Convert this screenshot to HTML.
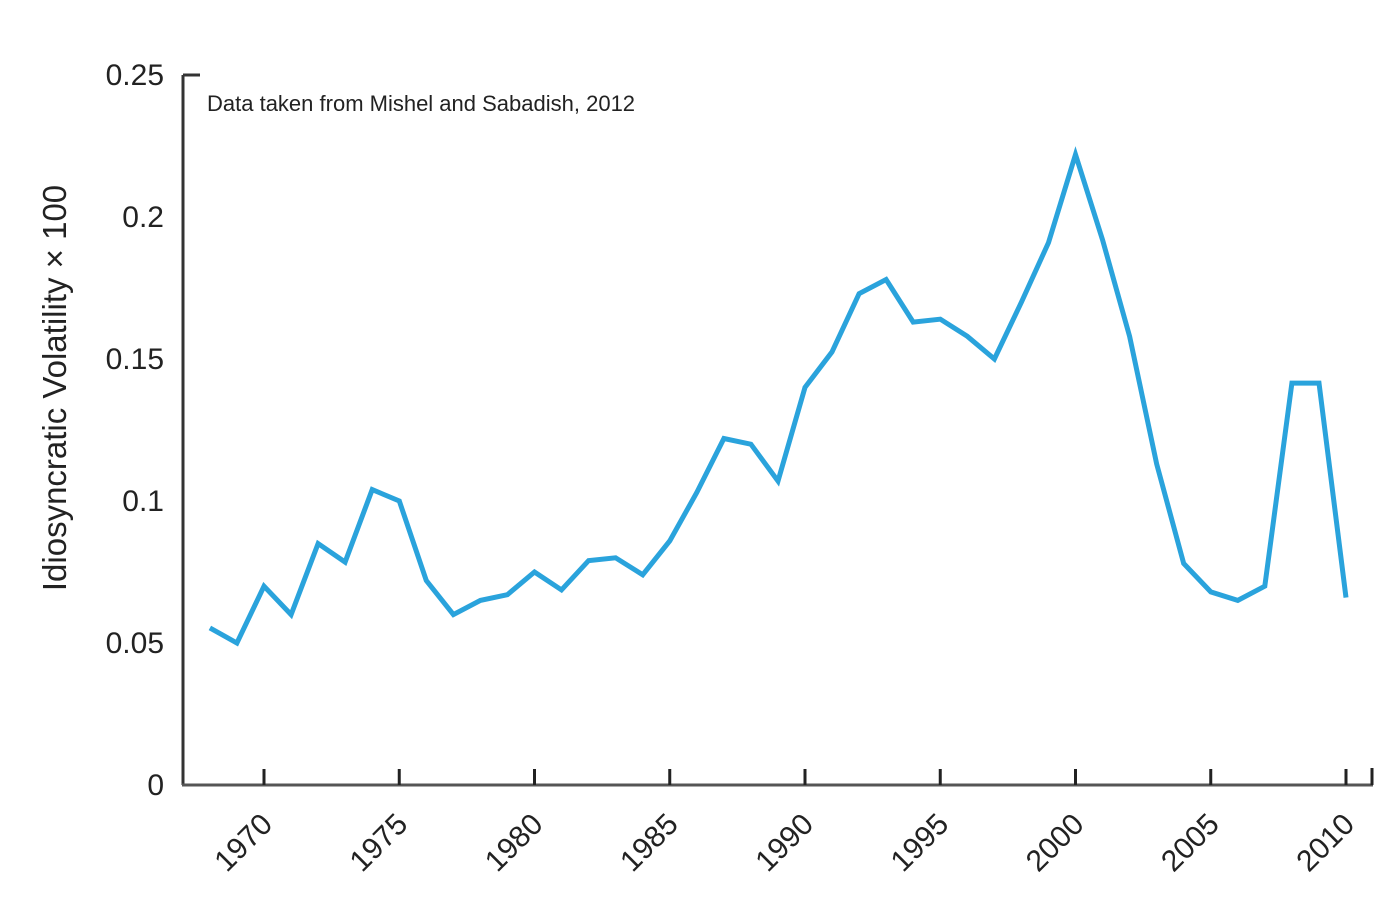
<!DOCTYPE html>
<html><head><meta charset="utf-8"><style>
html,body{margin:0;padding:0;background:#fff;}
svg{display:block;font-family:"Liberation Sans",sans-serif;}
</style></head><body>
<svg id="chart" width="1400" height="913" viewBox="0 0 1400 913"></svg>
<script>
const years=[1968,1969,1970,1971,1972,1973,1974,1975,1976,1977,1978,1979,1980,1981,1982,1983,1984,1985,1986,1987,1988,1989,1990,1991,1992,1993,1994,1995,1996,1997,1998,1999,2000,2001,2002,2003,2004,2005,2006,2007,2008,2009,2010];
const values=[0.0553,0.050,0.070,0.060,0.085,0.0785,0.104,0.100,0.072,0.060,0.065,0.067,0.075,0.0687,0.079,0.080,0.074,0.086,0.103,0.122,0.120,0.107,0.140,0.1525,0.173,0.178,0.163,0.164,0.158,0.150,0.170,0.191,0.222,0.192,0.158,0.113,0.078,0.068,0.065,0.070,0.1415,0.1415,0.066];
const yTicks=[0,0.05,0.1,0.15,0.2,0.25];
const yTickLabels=["0","0.05","0.1","0.15","0.2","0.25"];
const xTicks=[1970,1975,1980,1985,1990,1995,2000,2005,2010];
const xTickLabels=["1970","1975","1980","1985","1990","1995","2000","2005","2010"];

const NS="http://www.w3.org/2000/svg";
const svg=document.getElementById('chart');
const X=y=>264+(y-1970)*(1346-264)/40;
const Y=v=>785-v*(785-75)/0.25;
function mk(tag,attrs){const e=document.createElementNS(NS,tag);for(const k in attrs)e.setAttribute(k,attrs[k]);svg.appendChild(e);return e;}

let e=mk('line',{x1:183,y1:75,x2:183,y2:785,stroke:'#333','stroke-width':3});


e=mk('line',{x1:183,y1:75,x2:200,y2:75,stroke:'#333','stroke-width':3});


e=mk('line',{x1:182,y1:785,x2:1373,y2:785,stroke:'#555','stroke-width':3});


e=mk('line',{x1:1372,y1:768,x2:1372,y2:785,stroke:'#222','stroke-width':3});



yTicks.forEach((t,i)=>{
  const tx=mk('text',{x:164,y:Y(t)+10,'text-anchor':'end','font-size':30,fill:'#222'});
  tx.textContent=yTickLabels[i];
  
  
});
xTicks.forEach((t,i)=>{
  const x=X(t);
  const l=mk('line',{x1:x,y1:769,x2:x,y2:785,stroke:'#222','stroke-width':3});
  
  
  const tx=mk('text',{x:x+10,y:826,'text-anchor':'end','font-size':30,fill:'#222',transform:`rotate(-45 ${x+10} 826)`});
  tx.textContent=xTickLabels[i];
  
  
});

const pts=years.map((yr,i)=>X(yr).toFixed(1)+','+Y(values[i]).toFixed(1)).join(' ');
e=mk('polyline',{points:pts,fill:'none',stroke:'#2aa3dc','stroke-width':5,'stroke-linejoin':'miter'});



e=mk('text',{x:0,y:0,'text-anchor':'middle','font-size':33,fill:'#222',transform:'translate(66 388) rotate(-90)'});
e.textContent='Idiosyncratic Volatility × 100';



e=mk('text',{x:207,y:111,'font-size':22,fill:'#222'});
e.textContent='Data taken from Mishel and Sabadish, 2012';


</script>
</body></html>
